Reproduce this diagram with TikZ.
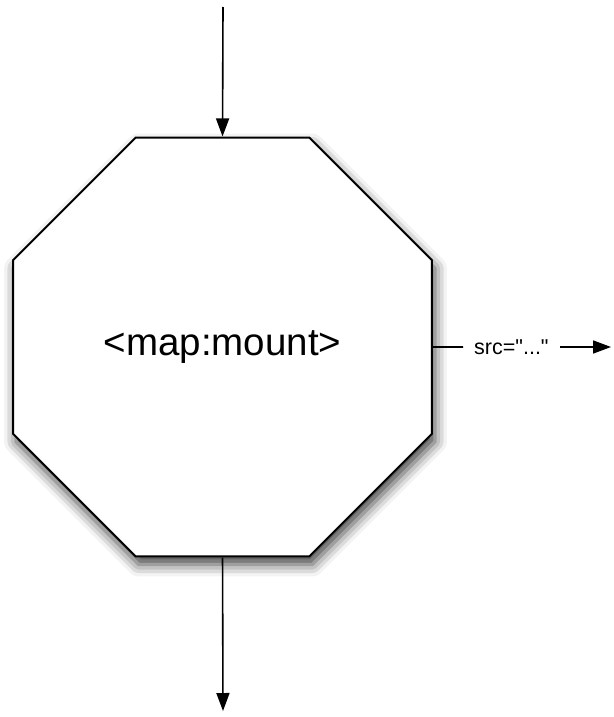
\documentclass[tikz,border=0pt]{standalone}
\usepackage{fontspec}
\setmainfont{Liberation Sans}
% plain family without TeX ligature mapping, so " stays a straight quote
\newfontfamily\attrfont{Liberation Sans}
\usetikzlibrary{shapes.geometric,arrows.meta,shadows.blur}

\tikzset{
  element/.style={regular polygon, regular polygon sides=8,
    minimum size=453.5pt, inner sep=0pt, draw=black, line width=2pt,
    fill=white, font=\fontsize{38.5}{42}\selectfont,
    blur shadow={shadow xshift=3pt, shadow yshift=-8pt,
      shadow blur radius=12pt, shadow opacity=75}},
  attr/.style={inner xsep=11pt, inner ysep=2pt, font=\attrfont\fontsize{21.5}{24}\selectfont},
  flow/.style={line width=1.6pt, -{Triangle[length=18pt,width=13pt]}},
  link/.style={line width=1.6pt}
}

\begin{document}
\begin{tikzpicture}[x=1pt,y=-1pt]
  \useasboundingbox (0,0) rectangle (613,717);

  % mount element
  \node[element] (mount) at (222.5,347) {\raisebox{-4pt}{<map:mount>}};

  % incoming and outgoing pipeline flow
  \coordinate (in) at (223,7);
  \coordinate (out) at (223,711);
  \draw[flow] (in) -- (mount.north);
  \draw[flow] (mount.south) -- (out);

  % src attribute branch
  \node[attr, anchor=west] (src) at (463,347) {src="..."};
  \coordinate (srcend) at (611,347);
  \draw[link] (mount.east) -- (src.west);
  \draw[flow] (src.east) -- (srcend);
\end{tikzpicture}
\end{document}
